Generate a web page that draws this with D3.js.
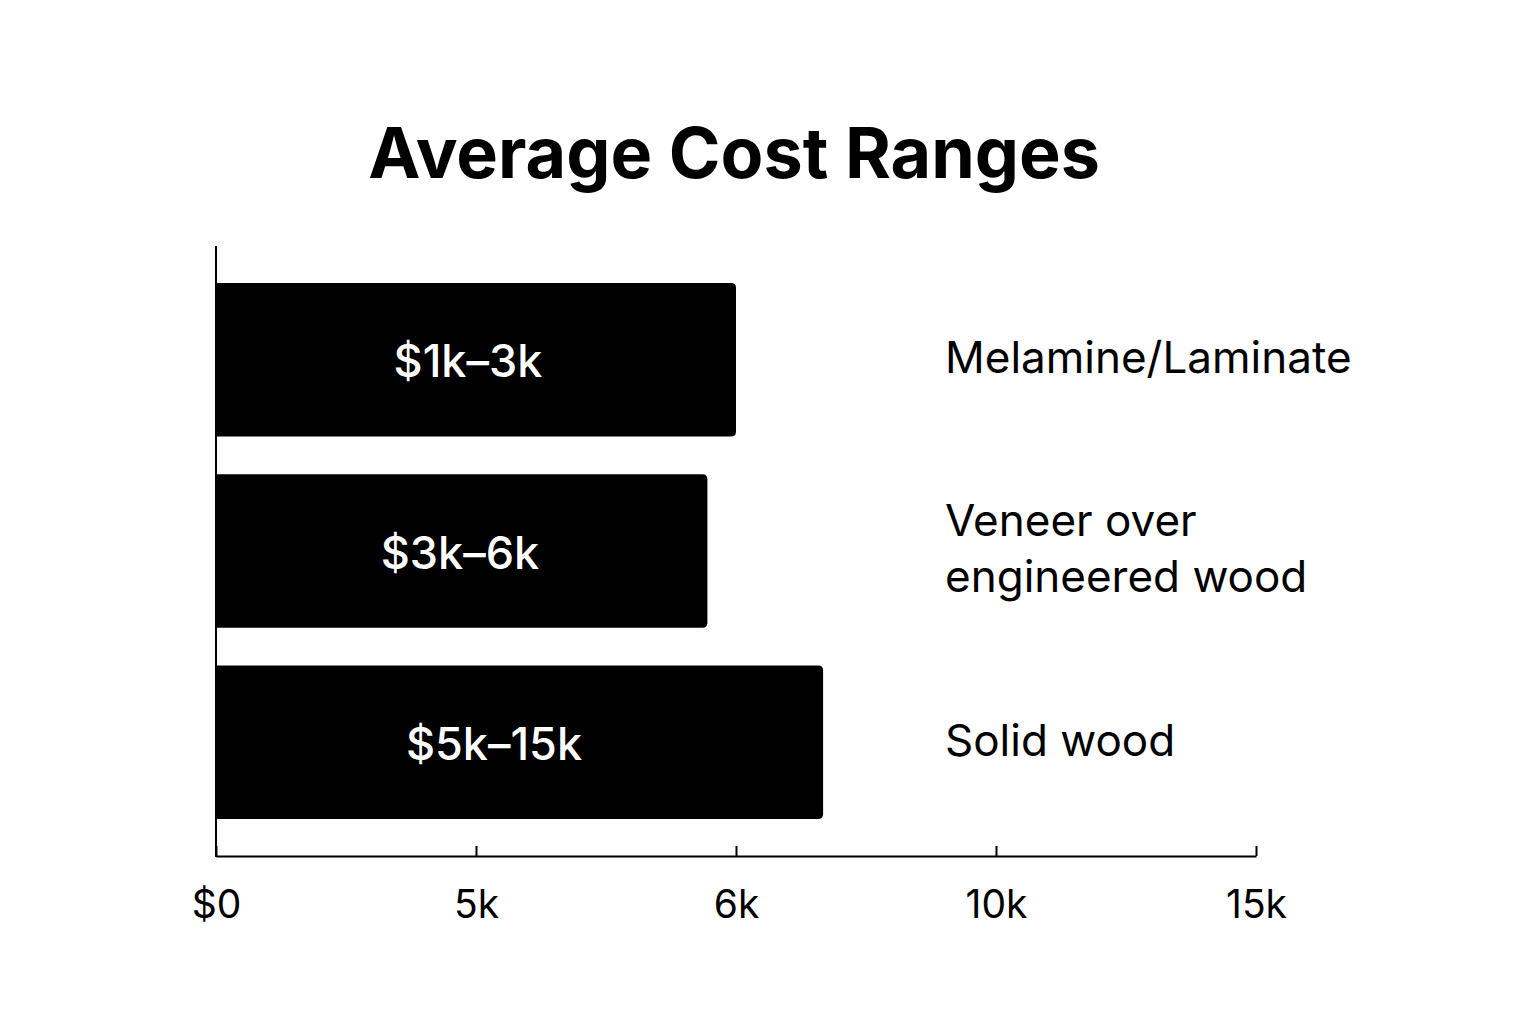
<!DOCTYPE html>
<html>
<head>
<meta charset="utf-8">
<script src="https://cdn.jsdelivr.net/npm/d3@7"></script>
<style>
  body { margin: 0; background: #fff; }
  text { font-family: Inter, "Noto Sans", sans-serif; }
</style>
</head>
<body>
<div id="chart"></div>
<script>
// categories and values
const categories = ["Melamine/Laminate", "Veneer over\nengineered wood", "Solid wood"];
const rangeLabels = ["$1k\u20133k", "$3k\u20136k", "$5k\u201315k"];
const barValues = [6000, 5890, 7340];
const tickValues = [0, 5000, 6000, 10000, 15000];
const tickLabels = ["$0", "5k", "6k", "10k", "15k"];

const width = 1536, height = 1024;
const svg = d3.select("#chart").append("svg")
    .attr("width", width).attr("height", height);

// The axis in the source is spaced evenly per tick, so map piecewise
const x = d3.scaleLinear()
    .domain(tickValues)
    .range(tickValues.map((d, i) => 216 + i * 260));

const y = d3.scaleBand()
    .domain(categories)
    .range([264, 838])
    .paddingInner(0.198)
    .paddingOuter(0.099);

svg.append("text")
    .attr("x", 734).attr("y", 178)
    .attr("text-anchor", "middle")
    .style("font-size", "70px").style("font-weight", "700")
    .text("Average Cost Ranges");

// bars with rounded right end only
const r = 5;
svg.selectAll(".bar")
    .data(categories)
    .enter().append("path")
    .attr("class", "bar")
    .attr("fill", "#000")
    .attr("d", (d, i) => {
        const x0 = x(0), x1 = x(barValues[i]), y0 = y(d), h = y.bandwidth();
        return `M${x0},${y0}H${x1 - r}Q${x1},${y0} ${x1},${y0 + r}V${y0 + h - r}Q${x1},${y0 + h} ${x1 - r},${y0 + h}H${x0}Z`;
    });

svg.selectAll(".bar-label")
    .data(categories)
    .enter().append("text")
    .attr("x", (d, i) => [468, 460, 494][i])
    .attr("y", d => y(d) + y.bandwidth() / 2 + 2)
    .attr("dy", "0.35em")
    .attr("text-anchor", "middle")
    .attr("fill", "#fff")
    .style("font-size", "45px").style("font-weight", "500")
    .text((d, i) => rangeLabels[i]);

// category labels on the right
categories.forEach(c => {
    const lines = c.split("\n");
    const t = svg.append("text")
        .attr("x", 945)
        .attr("y", y(c) + y.bandwidth() / 2 - (lines.length - 1) * 28)
        .style("font-size", "44px");
    lines.forEach((l, j) => t.append("tspan").attr("x", 945).attr("dy", j ? "56px" : "0.3em").text(l));
});

// axes
svg.append("line")
    .attr("x1", 216).attr("x2", 216).attr("y1", 246).attr("y2", 857)
    .attr("stroke", "#000").attr("stroke-width", 2);

const xAxis = svg.append("g")
    .attr("transform", "translate(0,856)")
    .call(d3.axisBottom(x).tickValues(tickValues).tickSizeInner(-10).tickSizeOuter(0)
        .tickFormat((d, i) => tickLabels[i]));
xAxis.select(".domain").attr("stroke-width", 2);
xAxis.selectAll(".tick line").attr("stroke-width", 2);
xAxis.selectAll(".tick text")
    .attr("y", 34)
    .attr("fill", "#000")
    .style("font-size", "39px")
    .style("font-family", "Inter, 'Noto Sans', sans-serif");
</script>
</body>
</html>
